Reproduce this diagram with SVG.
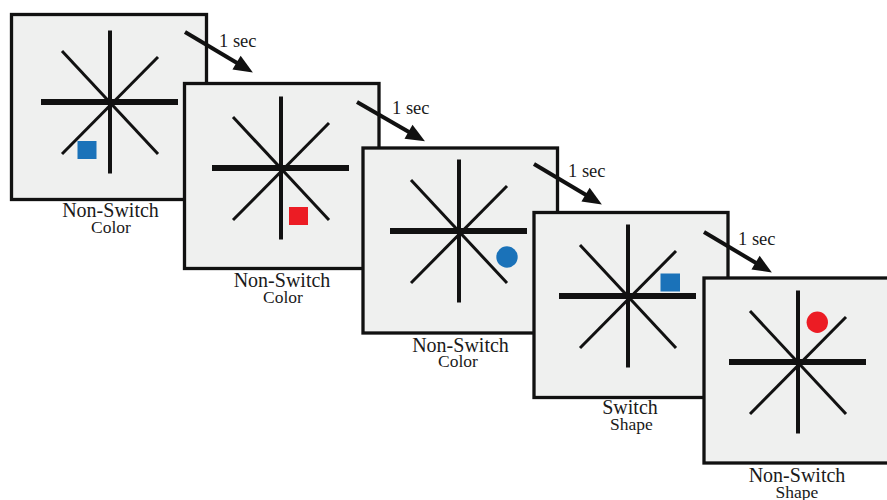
<svg xmlns="http://www.w3.org/2000/svg" xmlns:xlink="http://www.w3.org/1999/xlink" width="887" height="500" viewBox="0 0 887 500">
  <style>
    .frame { fill: #eff0ef; stroke: #111111; stroke-width: 3.3; }
    .bar { stroke: #111111; stroke-linecap: butt; }
    .lbl { font-family: "Liberation Serif", "Times New Roman", serif; fill: #1a1a1a; text-anchor: middle; }
    .l1 { font-size: 20px; }
    .l2 { font-size: 17.5px; }
    .dt { font-family: "Liberation Serif", "Times New Roman", serif; font-size: 18.5px; fill: #1a1a1a; }
    .arrow { stroke: #111111; stroke-width: 4; fill: none; marker-end: url(#head); }
    .blue { fill: #1a72b9; }
    .red { fill: #ec1c24; }
  </style>
  <defs>
    <marker id="head" markerUnits="userSpaceOnUse" markerWidth="20" markerHeight="18" refX="6" refY="8" orient="auto" overflow="visible">
      <path d="M0,0 L19,8 L0,16 Z" fill="#111111"/>
    </marker>
    <!-- fixation star drawn around its own centre -->
    <g id="star">
      <line class="bar" x1="-48" y1="-51" x2="48" y2="52" stroke-width="3"/>
      <line class="bar" x1="48" y1="-45" x2="-48" y2="52" stroke-width="3"/>
      <line class="bar" x1="0" y1="-71.5" x2="0" y2="71.5" stroke-width="4"/>
      <line class="bar" x1="-69" y1="0" x2="68" y2="0" stroke-width="6"/>
    </g>
  </defs>

  <g id="panel1">
    <rect class="frame" x="11.5" y="14.5" width="195" height="185"/>
    <use xlink:href="#star" href="#star" x="110" y="102"/>
    <rect class="blue" x="77.5" y="141" width="19" height="18"/>
    <text class="lbl l1" x="110.5" y="217">Non-Switch</text>
    <text class="lbl l2" x="111" y="233">Color</text>
  </g>

  <g id="panel2">
    <rect class="frame" x="184.5" y="83.5" width="194.5" height="185"/>
    <use xlink:href="#star" href="#star" x="281" y="168"/>
    <rect class="red" x="289" y="207" width="19" height="18"/>
    <text class="lbl l1" x="282" y="287">Non-Switch</text>
    <text class="lbl l2" x="283" y="303">Color</text>
  </g>

  <g id="panel3">
    <rect class="frame" x="363" y="148" width="194.5" height="185"/>
    <use xlink:href="#star" href="#star" x="459" y="231"/>
    <circle class="blue" cx="507" cy="257" r="10.7"/>
    <text class="lbl l1" x="460.5" y="352">Non-Switch</text>
    <text class="lbl l2" x="458" y="367">Color</text>
  </g>

  <g id="panel4">
    <rect class="frame" x="534" y="212.5" width="194" height="185"/>
    <use xlink:href="#star" href="#star" x="628" y="296"/>
    <rect class="blue" x="660.5" y="273.5" width="19.5" height="18"/>
    <text class="lbl l1" x="630" y="414">Switch</text>
    <text class="lbl l2" x="631.5" y="429.5">Shape</text>
  </g>

  <g id="panel5">
    <rect class="frame" x="704" y="278" width="195" height="185"/>
    <use xlink:href="#star" href="#star" x="798" y="362"/>
    <circle class="red" cx="817.3" cy="322.3" r="10.7"/>
    <text class="lbl l1" x="797" y="482">Non-Switch</text>
    <text class="lbl l2" x="797" y="498">Shape</text>
  </g>

  <g id="connectors">
    <line class="arrow" x1="185" y1="32" x2="241.7" y2="65.8"/>
    <text class="dt" x="219" y="47">1 sec</text>
    <line class="arrow" x1="357" y1="102" x2="413.7" y2="134.8"/>
    <text class="dt" x="392" y="114">1 sec</text>
    <line class="arrow" x1="534" y1="164" x2="590.7" y2="197.8"/>
    <text class="dt" x="568" y="177">1 sec</text>
    <line class="arrow" x1="704" y1="232" x2="760.7" y2="265.8"/>
    <text class="dt" x="738" y="245">1 sec</text>
  </g>
</svg>
